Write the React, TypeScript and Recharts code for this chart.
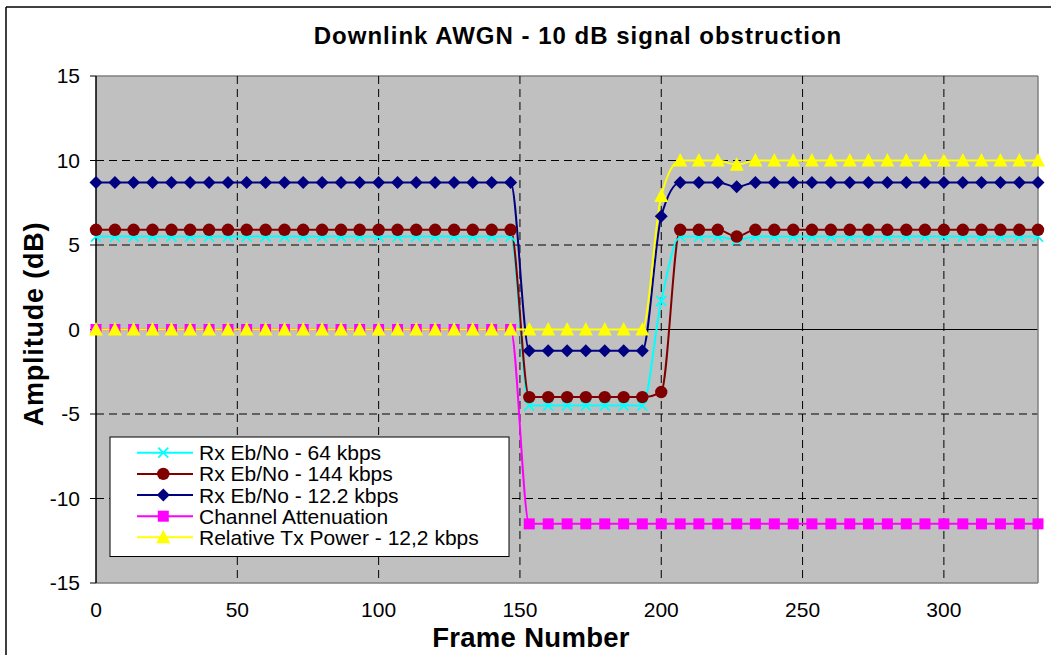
import React from 'react';
import { LineChart, Line, XAxis, YAxis, CartesianGrid } from 'recharts';

// frame number of each sample (one every 6.67 frames)
const frames = [
  0, 6.7, 13.3, 20, 26.7, 33.3, 40, 46.7, 53.3, 60,
  66.7, 73.3, 80, 86.7, 93.3, 100, 106.7, 113.3, 120, 126.7,
  133.3, 140, 146.7, 153.3, 160, 166.7, 173.3, 180, 186.7, 193.3,
  200, 206.7, 213.3, 220, 226.7, 233.3, 240, 246.7, 253.3, 260,
  266.7, 273.3, 280, 286.7, 293.3, 300, 306.7, 313.3, 320, 326.7,
  333.3,
];

const ebno64 = [
  5.5, 5.5, 5.5, 5.5, 5.5, 5.5, 5.5, 5.5, 5.5, 5.5,
  5.5, 5.5, 5.5, 5.5, 5.5, 5.5, 5.5, 5.5, 5.5, 5.5,
  5.5, 5.5, 5.5, -4.5, -4.5, -4.5, -4.5, -4.5, -4.5, -4.5,
  1.7, 5.5, 5.5, 5.5, 5.3, 5.5, 5.5, 5.5, 5.5, 5.5,
  5.5, 5.5, 5.5, 5.5, 5.5, 5.5, 5.5, 5.5, 5.5, 5.5,
  5.5,
];

const ebno144 = [
  5.9, 5.9, 5.9, 5.9, 5.9, 5.9, 5.9, 5.9, 5.9, 5.9,
  5.9, 5.9, 5.9, 5.9, 5.9, 5.9, 5.9, 5.9, 5.9, 5.9,
  5.9, 5.9, 5.9, -4.0, -4.0, -4.0, -4.0, -4.0, -4.0, -4.0,
  -3.7, 5.9, 5.9, 5.9, 5.5, 5.9, 5.9, 5.9, 5.9, 5.9,
  5.9, 5.9, 5.9, 5.9, 5.9, 5.9, 5.9, 5.9, 5.9, 5.9,
  5.9,
];

const ebno122 = [
  8.7, 8.7, 8.7, 8.7, 8.7, 8.7, 8.7, 8.7, 8.7, 8.7,
  8.7, 8.7, 8.7, 8.7, 8.7, 8.7, 8.7, 8.7, 8.7, 8.7,
  8.7, 8.7, 8.7, -1.25, -1.25, -1.25, -1.25, -1.25, -1.25, -1.25,
  6.7, 8.7, 8.7, 8.7, 8.45, 8.7, 8.7, 8.7, 8.7, 8.7,
  8.7, 8.7, 8.7, 8.7, 8.7, 8.7, 8.7, 8.7, 8.7, 8.7,
  8.7,
];

const attenuation = [
  0, 0, 0, 0, 0, 0, 0, 0, 0, 0,
  0, 0, 0, 0, 0, 0, 0, 0, 0, 0,
  0, 0, 0, -11.5, -11.5, -11.5, -11.5, -11.5, -11.5, -11.5,
  -11.5, -11.5, -11.5, -11.5, -11.5, -11.5, -11.5, -11.5, -11.5, -11.5,
  -11.5, -11.5, -11.5, -11.5, -11.5, -11.5, -11.5, -11.5, -11.5, -11.5,
  -11.5,
];

const txPower = [
  0, 0, 0, 0, 0, 0, 0, 0, 0, 0,
  0, 0, 0, 0, 0, 0, 0, 0, 0, 0,
  0, 0, 0, 0, 0, 0, 0, 0, 0, 0,
  7.9, 10, 10, 10, 9.75, 10, 10, 10, 10, 10,
  10, 10, 10, 10, 10, 10, 10, 10, 10, 10,
  10,
];

const xTicks = [0, 50, 100, 150, 200, 250, 300];
const xMax = 333.3;
const yTicks = [-15, -10, -5, 0, 5, 10, 15];

const series = [
  { key: 'ebno64', name: 'Rx Eb/No - 64 kbps', color: '#00FFFF', marker: 'x' },
  { key: 'ebno144', name: 'Rx Eb/No - 144 kbps', color: '#800000', marker: 'circle' },
  { key: 'ebno122', name: 'Rx Eb/No - 12.2 kbps', color: '#000080', marker: 'diamond' },
  { key: 'atten', name: 'Channel Attenuation', color: '#FF00FF', marker: 'square' },
  { key: 'txpow', name: 'Relative Tx Power - 12,2 kbps', color: '#FFFF00', marker: 'triangle' },
];

const rows = frames.map((f, i) => ({
  frame: f,
  ebno64: ebno64[i],
  ebno144: ebno144[i],
  ebno122: ebno122[i],
  atten: attenuation[i],
  txpow: txPower[i],
}));

const FONT = '"Liberation Sans", Arial, sans-serif';

function Marker({ kind, cx, cy, color }: { kind: string; cx: number; cy: number; color: string }) {
  if (kind === 'x') {
    return (
      <g stroke={color} strokeWidth={1.8}>
        <line x1={cx - 5} y1={cy - 5} x2={cx + 5} y2={cy + 5} />
        <line x1={cx - 5} y1={cy + 5} x2={cx + 5} y2={cy - 5} />
      </g>
    );
  }
  if (kind === 'circle') return <circle cx={cx} cy={cy} r={6.2} fill={color} />;
  if (kind === 'diamond') {
    return <polygon points={`${cx},${cy - 6.5} ${cx + 6.5},${cy} ${cx},${cy + 6.5} ${cx - 6.5},${cy}`} fill={color} />;
  }
  if (kind === 'square') return <rect x={cx - 5.5} y={cy - 5.5} width={11} height={11} fill={color} />;
  return <polygon points={`${cx},${cy - 7.5} ${cx + 7},${cy + 6} ${cx - 7},${cy + 6}`} fill={color} />;
}

// horizontal grid: dashed, solid black axis at 0, grey plot border at +-15
const gridH = (p: any) => {
  const v = yTicks[p.index];
  if (v === 0) return <line key={p.key} x1={p.x1} y1={p.y1} x2={p.x2} y2={p.y2} stroke="#000" strokeWidth={1} />;
  if (v === 15 || v === -15) return <line key={p.key} x1={p.x1} y1={p.y1} x2={p.x2} y2={p.y2} stroke="#808080" strokeWidth={1.5} />;
  return <line key={p.key} x1={p.x1} y1={p.y1} x2={p.x2} y2={p.y2} stroke="#000" strokeWidth={1} strokeDasharray="8 5" />;
};

const gridXValues = [...xTicks, xMax];
const gridV = (p: any) => {
  const v = gridXValues[p.index];
  if (v === 0) return <g key={p.key} />;
  if (v === xMax) return <line key={p.key} x1={p.x1} y1={p.y1} x2={p.x2} y2={p.y2} stroke="#808080" strokeWidth={1.5} />;
  return <line key={p.key} x1={p.x1} y1={p.y1} x2={p.x2} y2={p.y2} stroke="#000" strokeWidth={1} strokeDasharray="8 5" />;
};

const legendRows = [452.7, 473.9, 495, 516.2, 537.3];

export default function App() {
  return (
    <div style={{ position: 'absolute', left: 0, top: 0, width: 1051, height: 655, background: '#fff', fontFamily: FONT }}>
      <LineChart width={1051} height={655} data={rows} margin={{ top: 76, right: 13, bottom: 0, left: 0 }}>
        <CartesianGrid
          fill="#C0C0C0"
          fillOpacity={1}
          horizontalValues={yTicks}
          verticalValues={gridXValues}
          horizontal={gridH}
          vertical={gridV}
        />
        <XAxis
          dataKey="frame"
          type="number"
          domain={[0, xMax]}
          ticks={xTicks}
          interval={0}
          axisLine={false}
          tickLine={false}
          tickSize={0}
          tickMargin={19}
          height={72}
          tick={{ fontSize: 21, fill: '#000', fontFamily: FONT }}
        />
        <YAxis
          type="number"
          domain={[-15, 15]}
          ticks={yTicks}
          interval={0}
          width={96}
          axisLine={{ stroke: '#000', strokeWidth: 1.5 }}
          tickLine={{ stroke: '#000' }}
          tickSize={6}
          tickMargin={10}
          tick={{ fontSize: 21, fill: '#000', fontFamily: FONT }}
        />
        {series.map((s) => (
          <Line
            key={s.key}
            dataKey={s.key}
            name={s.name}
            stroke={s.color}
            strokeWidth={2}
            type="monotone"
            isAnimationActive={false}
            activeDot={false}
            dot={(p: any) => <Marker key={`${s.key}-${p.index}`} kind={s.marker} cx={p.cx} cy={p.cy} color={s.color} />}
          />
        ))}
      </LineChart>

      <svg width={1051} height={655} style={{ position: 'absolute', left: 0, top: 0, pointerEvents: 'none' }} fontFamily={FONT}>
        <line x1={6} y1={7} x2={6} y2={655} stroke="#000" strokeWidth={1.5} />
        <line x1={6} y1={7} x2={1051} y2={7} stroke="#000" strokeWidth={1.5} />
        <text x={578} y={44} textAnchor="middle" fontSize={24} fontWeight="bold" letterSpacing={1}>
          Downlink AWGN - 10 dB signal obstruction
        </text>
        <text transform="translate(43,324) rotate(-90)" textAnchor="middle" fontSize={27} fontWeight="bold" letterSpacing={0.8}>
          Amplitude (dB)
        </text>
        <text x={531} y={646.5} textAnchor="middle" fontSize={27.5} fontWeight="bold" letterSpacing={0.3}>
          Frame Number
        </text>
        <rect x={110} y={437} width={399} height={119.5} fill="#fff" stroke="#000" strokeWidth={1} />
        {series.map((s, i) => (
          <g key={s.key}>
            <line x1={137} y1={legendRows[i]} x2={193} y2={legendRows[i]} stroke={s.color} strokeWidth={2} />
            <Marker kind={s.marker} cx={163.3} cy={legendRows[i]} color={s.color} />
            <text x={199} y={legendRows[i] + 7.5} fontSize={21} fill="#000">{s.name}</text>
          </g>
        ))}
      </svg>
    </div>
  );
}
